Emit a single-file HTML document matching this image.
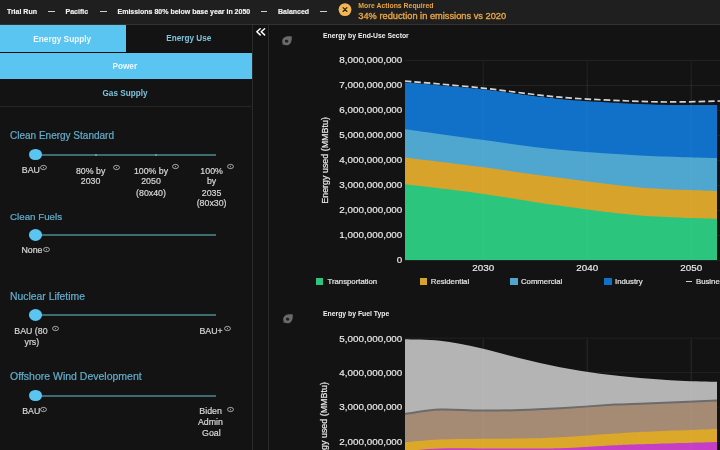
<!DOCTYPE html>
<html><head><meta charset="utf-8"><style>
html,body{margin:0;padding:0;}
body{width:720px;height:450px;background:#131313;position:relative;overflow:hidden;font-family:"Liberation Sans",sans-serif;}
.t{position:absolute;white-space:nowrap;-webkit-font-smoothing:antialiased;}
</style></head><body>
<svg style="position:absolute;left:0;top:0" width="720" height="450" viewBox="0 0 720 450">
<line x1="405" y1="60.5" x2="720" y2="60.5" stroke="#222222" stroke-width="1"/>
<line x1="405" y1="85.5" x2="720" y2="85.5" stroke="#222222" stroke-width="1"/>
<line x1="405" y1="110.5" x2="720" y2="110.5" stroke="#222222" stroke-width="1"/>
<line x1="405" y1="135.5" x2="720" y2="135.5" stroke="#222222" stroke-width="1"/>
<line x1="405" y1="160.5" x2="720" y2="160.5" stroke="#222222" stroke-width="1"/>
<line x1="405" y1="185.5" x2="720" y2="185.5" stroke="#222222" stroke-width="1"/>
<line x1="405" y1="210.5" x2="720" y2="210.5" stroke="#222222" stroke-width="1"/>
<line x1="405" y1="235.5" x2="720" y2="235.5" stroke="#222222" stroke-width="1"/>
<line x1="405" y1="260.5" x2="720" y2="260.5" stroke="#222222" stroke-width="1"/>
<line x1="483.2" y1="60" x2="483.2" y2="260" stroke="#222222" stroke-width="1"/>
<line x1="587.2" y1="60" x2="587.2" y2="260" stroke="#222222" stroke-width="1"/>
<line x1="691.2" y1="60" x2="691.2" y2="260" stroke="#222222" stroke-width="1"/>
<path d="M405,80.8 C417.50,82.13 454.17,85.78 480,88.8 C505.83,91.82 533.33,96.37 560,98.9 C586.67,101.43 620.00,102.98 640,104 C660.00,105.02 667.17,104.83 680,105 C692.83,105.17 710.83,105.00 717,105 L717,260 C665.00,260.00 457.00,260.00 405,260 Z" fill="#1170c8"/>
<path d="M405,129.3 C417.50,131.02 454.17,136.18 480,139.6 C505.83,143.02 533.33,147.17 560,149.8 C586.67,152.43 613.83,154.03 640,155.4 C666.17,156.77 704.17,157.57 717,158 L717,260 C665.00,260.00 457.00,260.00 405,260 Z" fill="#4fa6cf"/>
<path d="M405,157.5 C417.50,159.05 454.17,163.42 480,166.8 C505.83,170.18 533.33,174.35 560,177.8 C586.67,181.25 613.83,185.30 640,187.5 C666.17,189.70 704.17,190.42 717,191 L717,260 C665.00,260.00 457.00,260.00 405,260 Z" fill="#d8a32b"/>
<path d="M405,184.3 C417.50,185.82 454.17,189.82 480,193.4 C505.83,196.98 533.33,202.10 560,205.8 C586.67,209.50 613.83,213.42 640,215.6 C666.17,217.78 704.17,218.35 717,218.9 L717,260 C665.00,260.00 457.00,260.00 405,260 Z" fill="#2cc57e"/>
<line x1="483.2" y1="80" x2="483.2" y2="260" stroke="#ffffff" stroke-opacity="0.05" stroke-width="1"/>
<line x1="587.2" y1="80" x2="587.2" y2="260" stroke="#ffffff" stroke-opacity="0.05" stroke-width="1"/>
<line x1="691.2" y1="80" x2="691.2" y2="260" stroke="#ffffff" stroke-opacity="0.05" stroke-width="1"/>
<path d="M405,81 C417.50,82.13 454.17,85.10 480,87.8 C505.83,90.50 533.33,94.93 560,97.2 C586.67,99.47 620.00,100.62 640,101.4 C660.00,102.18 666.67,101.97 680,101.9 C693.33,101.83 713.33,101.15 720,101" fill="none" stroke="#131313" stroke-width="2.6"/>
<path d="M405,81 C417.50,82.13 454.17,85.10 480,87.8 C505.83,90.50 533.33,94.93 560,97.2 C586.67,99.47 620.00,100.62 640,101.4 C660.00,102.18 666.67,101.97 680,101.9 C693.33,101.83 713.33,101.15 720,101" fill="none" stroke="#d4d4d4" stroke-width="1.7" stroke-dasharray="6.5 3"/>
<line x1="405" y1="338.2" x2="720" y2="338.2" stroke="#222222" stroke-width="1"/>
<line x1="405" y1="372.7" x2="720" y2="372.7" stroke="#222222" stroke-width="1"/>
<line x1="405" y1="407.2" x2="720" y2="407.2" stroke="#222222" stroke-width="1"/>
<line x1="405" y1="441.7" x2="720" y2="441.7" stroke="#222222" stroke-width="1"/>
<line x1="483.2" y1="338" x2="483.2" y2="450" stroke="#222222" stroke-width="1"/>
<line x1="587.2" y1="338" x2="587.2" y2="450" stroke="#222222" stroke-width="1"/>
<line x1="691.2" y1="338" x2="691.2" y2="450" stroke="#222222" stroke-width="1"/>
<path d="M405,339.2 C410.83,339.47 427.50,339.33 440,340.8 C452.50,342.27 466.67,345.08 480,348 C493.33,350.92 506.67,355.10 520,358.3 C533.33,361.50 546.67,364.62 560,367.2 C573.33,369.78 586.67,372.00 600,373.8 C613.33,375.60 626.67,376.85 640,378 C653.33,379.15 667.17,380.07 680,380.7 C692.83,381.33 710.83,381.62 717,381.8 L717,460 C665.00,460.00 457.00,460.00 405,460 Z" fill="#b4b4b4"/>
<path d="M405,413.9 C410.83,413.18 427.50,410.15 440,409.6 C452.50,409.05 466.67,410.52 480,410.6 C493.33,410.68 506.67,410.48 520,410.1 C533.33,409.72 544.17,409.22 560,408.3 C575.83,407.38 601.67,405.35 615,404.6 C628.33,403.85 623.00,404.48 640,403.8 C657.00,403.12 704.17,401.05 717,400.5 L717,460 C665.00,460.00 457.00,460.00 405,460 Z" fill="#a58b74"/>
<path d="M405,442.3 C410.83,441.85 427.50,440.20 440,439.6 C452.50,439.00 466.67,438.87 480,438.7 C493.33,438.53 506.67,438.83 520,438.6 C533.33,438.37 544.17,438.15 560,437.3 C575.83,436.45 601.67,434.40 615,433.5 C628.33,432.60 623.00,432.67 640,431.9 C657.00,431.13 704.17,429.40 717,428.9 L717,460 C665.00,460.00 457.00,460.00 405,460 Z" fill="#dca82a"/>
<path d="M405,451 C410.83,450.58 427.50,448.93 440,448.5 C452.50,448.07 466.67,448.42 480,448.4 C493.33,448.38 506.67,448.42 520,448.4 C533.33,448.38 544.17,448.82 560,448.3 C575.83,447.78 601.67,445.97 615,445.3 C628.33,444.63 623.00,444.85 640,444.3 C657.00,443.75 704.17,442.38 717,442 L717,460 C665.00,460.00 457.00,460.00 405,460 Z" fill="#c43fc6"/>
<path d="M405,413.9 C410.83,413.18 427.50,410.15 440,409.6 C452.50,409.05 466.67,410.52 480,410.6 C493.33,410.68 506.67,410.48 520,410.1 C533.33,409.72 544.17,409.22 560,408.3 C575.83,407.38 601.67,405.35 615,404.6 C628.33,403.85 623.00,404.48 640,403.8 C657.00,403.12 704.17,401.05 717,400.5" fill="none" stroke="#6b6b6b" stroke-width="2"/>
<line x1="483.2" y1="340" x2="483.2" y2="450" stroke="#ffffff" stroke-opacity="0.05" stroke-width="1"/>
<line x1="587.2" y1="340" x2="587.2" y2="450" stroke="#ffffff" stroke-opacity="0.05" stroke-width="1"/>
<line x1="691.2" y1="340" x2="691.2" y2="450" stroke="#ffffff" stroke-opacity="0.05" stroke-width="1"/>
</svg>
<div style="position:absolute;left:0;top:0;width:720px;height:450px;will-change:transform;">
<div style="position:absolute;left:0px;top:0px;width:720px;height:24px;background:#1f1f1f;"></div>
<div style="position:absolute;left:0px;top:24px;width:720px;height:1px;background:#333333;"></div>
<div class="t" style="left:7.00px;top:8.00px;font-size:7.0px;line-height:7.0px;font-weight:700;color:#f2f2f2;-webkit-text-stroke:0.15px #f2f2f2;">Trial Run</div>
<div style="position:absolute;left:48px;top:11px;width:6.5px;height:1px;background:#d0d0d0;"></div>
<div class="t" style="left:65.50px;top:8.00px;font-size:7.0px;line-height:7.0px;font-weight:700;color:#f2f2f2;-webkit-text-stroke:0.15px #f2f2f2;">Pacific</div>
<div style="position:absolute;left:100px;top:11px;width:6.5px;height:1px;background:#d0d0d0;"></div>
<div class="t" style="left:117.50px;top:8.00px;font-size:7.0px;line-height:7.0px;font-weight:700;color:#f2f2f2;-webkit-text-stroke:0.15px #f2f2f2;">Emissions 80% below base year in 2050</div>
<div style="position:absolute;left:260.5px;top:11px;width:6.5px;height:1px;background:#d0d0d0;"></div>
<div class="t" style="left:278.00px;top:8.00px;font-size:7.0px;line-height:7.0px;font-weight:700;color:#f2f2f2;-webkit-text-stroke:0.15px #f2f2f2;">Balanced</div>
<div style="position:absolute;left:320px;top:11px;width:6.5px;height:1px;background:#d0d0d0;"></div>
<svg style="position:absolute;left:338px;top:3px" width="14" height="14" viewBox="0 0 14 14"><circle cx="7" cy="6.6" r="6.4" fill="#f2b652"/><path d="M5.1 4.7 L8.9 8.5 M8.9 4.7 L5.1 8.5" stroke="#2a1d08" stroke-width="1.1" stroke-linecap="round"/></svg>
<div class="t" style="left:358.30px;top:3.00px;font-size:6.9px;line-height:6.9px;font-weight:700;color:#e8a644;">More Actions Required</div>
<div class="t" style="left:358.30px;top:12.00px;font-size:9.28px;line-height:9.28px;font-weight:400;color:#e8a644;-webkit-text-stroke:0.35px #e8a644;">34% reduction in emissions vs 2020</div>
<div style="position:absolute;left:0px;top:25px;width:126px;height:27px;background:#5bc5f1;"></div>
<div style="position:absolute;left:0px;top:52px;width:252px;height:1px;background:#0d0d0d;"></div>
<div style="position:absolute;left:0px;top:53px;width:252px;height:26px;background:#5bc5f1;"></div>
<div class="t" style="left:33.30px;top:36.00px;font-size:8.28px;line-height:8.28px;font-weight:700;color:#eef8fd;">Energy Supply</div>
<div class="t" style="left:166.20px;top:35.00px;font-size:8.21px;line-height:8.21px;font-weight:700;color:#7fc4dc;">Energy Use</div>
<div class="t" style="left:112.50px;top:63.00px;font-size:8.2px;line-height:8.2px;font-weight:700;color:#eef8fd;">Power</div>
<div class="t" style="left:102.50px;top:90.00px;font-size:8.18px;line-height:8.18px;font-weight:700;color:#7fc4dc;">Gas Supply</div>
<div style="position:absolute;left:0px;top:106px;width:251px;height:1px;background:#262626;"></div>
<div style="position:absolute;left:252px;top:25px;width:1px;height:425px;background:#2a2a2a;"></div>
<div style="position:absolute;left:268px;top:25px;width:1px;height:425px;background:#2a2a2a;"></div>
<svg style="position:absolute;left:254px;top:26px" width="14" height="12" viewBox="0 0 14 12"><path d="M6.2 2.7 L2.8 5.8 L6.2 8.9 M10.6 2.7 L7.2 5.8 L10.6 8.9" stroke="#ffffff" stroke-width="1.45" fill="none" stroke-linecap="round" stroke-linejoin="round"/></svg>
<div class="t" style="left:10.00px;top:131.00px;font-size:10.0px;line-height:10.0px;font-weight:400;color:#62aecd;-webkit-text-stroke:0.2px #62aecd;">Clean Energy Standard</div>
<div style="position:absolute;left:36px;top:153.6px;width:180px;height:2px;background:#3e6b72;"></div>
<div style="position:absolute;left:94.5px;top:153.6px;width:2px;height:2px;background:#6d9499;"></div>
<div style="position:absolute;left:154.5px;top:153.6px;width:2px;height:2px;background:#6d9499;"></div>
<div style="position:absolute;left:28.80px;top:148.60px;width:13.1px;height:11.6px;border-radius:50%;background:#5bc5f1"></div>
<div class="t" style="left:-169.20px;width:400px;text-align:center;top:166.00px;font-size:8.8px;line-height:8.8px;font-weight:400;color:#d8d8d8;-webkit-text-stroke:0.2px #d8d8d8;">BAU</div>
<svg style="position:absolute;left:39.90px;top:164.10px" width="7" height="7" viewBox="0 0 7 7"><ellipse cx="3.5" cy="3.5" rx="2.95" ry="2.1" stroke="#cfcfcf" stroke-width="0.8" fill="none"/><path d="M3.5 2.9 V4.2" stroke="#cfcfcf" stroke-width="0.7"/></svg>
<div class="t" style="left:-109.40px;width:400px;text-align:center;top:167.00px;font-size:8.8px;line-height:8.8px;font-weight:400;color:#d8d8d8;-webkit-text-stroke:0.2px #d8d8d8;">80% by</div>
<div class="t" style="left:-109.40px;width:400px;text-align:center;top:177.00px;font-size:8.8px;line-height:8.8px;font-weight:400;color:#d8d8d8;-webkit-text-stroke:0.2px #d8d8d8;">2030</div>
<svg style="position:absolute;left:112.80px;top:163.80px" width="7" height="7" viewBox="0 0 7 7"><ellipse cx="3.5" cy="3.5" rx="2.95" ry="2.1" stroke="#cfcfcf" stroke-width="0.8" fill="none"/><path d="M3.5 2.9 V4.2" stroke="#cfcfcf" stroke-width="0.7"/></svg>
<div class="t" style="left:-49.00px;width:400px;text-align:center;top:167.00px;font-size:8.8px;line-height:8.8px;font-weight:400;color:#d8d8d8;-webkit-text-stroke:0.2px #d8d8d8;">100% by</div>
<div class="t" style="left:-49.00px;width:400px;text-align:center;top:177.00px;font-size:8.8px;line-height:8.8px;font-weight:400;color:#d8d8d8;-webkit-text-stroke:0.2px #d8d8d8;">2050</div>
<div class="t" style="left:-49.00px;width:400px;text-align:center;top:189.00px;font-size:8.8px;line-height:8.8px;font-weight:400;color:#d8d8d8;-webkit-text-stroke:0.2px #d8d8d8;">(80x40)</div>
<svg style="position:absolute;left:172.10px;top:163.30px" width="7" height="7" viewBox="0 0 7 7"><ellipse cx="3.5" cy="3.5" rx="2.95" ry="2.1" stroke="#cfcfcf" stroke-width="0.8" fill="none"/><path d="M3.5 2.9 V4.2" stroke="#cfcfcf" stroke-width="0.7"/></svg>
<div class="t" style="left:11.60px;width:400px;text-align:center;top:167.00px;font-size:8.8px;line-height:8.8px;font-weight:400;color:#d8d8d8;-webkit-text-stroke:0.2px #d8d8d8;">100%</div>
<div class="t" style="left:11.60px;width:400px;text-align:center;top:177.00px;font-size:8.8px;line-height:8.8px;font-weight:400;color:#d8d8d8;-webkit-text-stroke:0.2px #d8d8d8;">by</div>
<div class="t" style="left:11.60px;width:400px;text-align:center;top:189.00px;font-size:8.8px;line-height:8.8px;font-weight:400;color:#d8d8d8;-webkit-text-stroke:0.2px #d8d8d8;">2035</div>
<div class="t" style="left:11.60px;width:400px;text-align:center;top:199.00px;font-size:8.8px;line-height:8.8px;font-weight:400;color:#d8d8d8;-webkit-text-stroke:0.2px #d8d8d8;">(80x30)</div>
<svg style="position:absolute;left:226.50px;top:163.30px" width="7" height="7" viewBox="0 0 7 7"><ellipse cx="3.5" cy="3.5" rx="2.95" ry="2.1" stroke="#cfcfcf" stroke-width="0.8" fill="none"/><path d="M3.5 2.9 V4.2" stroke="#cfcfcf" stroke-width="0.7"/></svg>
<div class="t" style="left:10.00px;top:212.00px;font-size:9.75px;line-height:9.75px;font-weight:400;color:#62aecd;-webkit-text-stroke:0.2px #62aecd;">Clean Fuels</div>
<div style="position:absolute;left:36px;top:234.0px;width:180px;height:2px;background:#3e6b72;"></div>
<div style="position:absolute;left:28.80px;top:229.00px;width:13.1px;height:11.6px;border-radius:50%;background:#5bc5f1"></div>
<div class="t" style="left:-168.00px;width:400px;text-align:center;top:246.00px;font-size:8.8px;line-height:8.8px;font-weight:400;color:#d8d8d8;-webkit-text-stroke:0.2px #d8d8d8;">None</div>
<svg style="position:absolute;left:43.20px;top:245.50px" width="7" height="7" viewBox="0 0 7 7"><ellipse cx="3.5" cy="3.5" rx="2.95" ry="2.1" stroke="#cfcfcf" stroke-width="0.8" fill="none"/><path d="M3.5 2.9 V4.2" stroke="#cfcfcf" stroke-width="0.7"/></svg>
<div class="t" style="left:10.00px;top:292.00px;font-size:10.38px;line-height:10.38px;font-weight:400;color:#62aecd;-webkit-text-stroke:0.2px #62aecd;">Nuclear Lifetime</div>
<div style="position:absolute;left:36px;top:314.4px;width:180px;height:2px;background:#3e6b72;"></div>
<div style="position:absolute;left:28.80px;top:309.40px;width:13.1px;height:11.6px;border-radius:50%;background:#5bc5f1"></div>
<div class="t" style="left:-169.10px;width:400px;text-align:center;top:327.00px;font-size:8.8px;line-height:8.8px;font-weight:400;color:#d8d8d8;-webkit-text-stroke:0.2px #d8d8d8;">BAU (80</div>
<div class="t" style="left:-168.20px;width:400px;text-align:center;top:338.00px;font-size:8.8px;line-height:8.8px;font-weight:400;color:#d8d8d8;-webkit-text-stroke:0.2px #d8d8d8;">yrs)</div>
<svg style="position:absolute;left:52.20px;top:325.20px" width="7" height="7" viewBox="0 0 7 7"><ellipse cx="3.5" cy="3.5" rx="2.95" ry="2.1" stroke="#cfcfcf" stroke-width="0.8" fill="none"/><path d="M3.5 2.9 V4.2" stroke="#cfcfcf" stroke-width="0.7"/></svg>
<div class="t" style="left:11.10px;width:400px;text-align:center;top:327.00px;font-size:8.8px;line-height:8.8px;font-weight:400;color:#d8d8d8;-webkit-text-stroke:0.2px #d8d8d8;">BAU+</div>
<svg style="position:absolute;left:224.00px;top:324.50px" width="7" height="7" viewBox="0 0 7 7"><ellipse cx="3.5" cy="3.5" rx="2.95" ry="2.1" stroke="#cfcfcf" stroke-width="0.8" fill="none"/><path d="M3.5 2.9 V4.2" stroke="#cfcfcf" stroke-width="0.7"/></svg>
<div class="t" style="left:10.00px;top:371.00px;font-size:10.5px;line-height:10.5px;font-weight:400;color:#62aecd;-webkit-text-stroke:0.2px #62aecd;">Offshore Wind Development</div>
<div style="position:absolute;left:36px;top:394.59999999999997px;width:180px;height:2px;background:#3e6b72;"></div>
<div style="position:absolute;left:28.80px;top:389.60px;width:13.1px;height:11.6px;border-radius:50%;background:#5bc5f1"></div>
<div class="t" style="left:-168.80px;width:400px;text-align:center;top:407.00px;font-size:8.8px;line-height:8.8px;font-weight:400;color:#d8d8d8;-webkit-text-stroke:0.2px #d8d8d8;">BAU</div>
<svg style="position:absolute;left:39.70px;top:405.60px" width="7" height="7" viewBox="0 0 7 7"><ellipse cx="3.5" cy="3.5" rx="2.95" ry="2.1" stroke="#cfcfcf" stroke-width="0.8" fill="none"/><path d="M3.5 2.9 V4.2" stroke="#cfcfcf" stroke-width="0.7"/></svg>
<div class="t" style="left:10.60px;width:400px;text-align:center;top:407.00px;font-size:8.8px;line-height:8.8px;font-weight:400;color:#d8d8d8;-webkit-text-stroke:0.2px #d8d8d8;">Biden</div>
<div class="t" style="left:10.40px;width:400px;text-align:center;top:418.00px;font-size:8.8px;line-height:8.8px;font-weight:400;color:#d8d8d8;-webkit-text-stroke:0.2px #d8d8d8;">Admin</div>
<div class="t" style="left:11.40px;width:400px;text-align:center;top:429.00px;font-size:8.8px;line-height:8.8px;font-weight:400;color:#d8d8d8;-webkit-text-stroke:0.2px #d8d8d8;">Goal</div>
<svg style="position:absolute;left:227.00px;top:405.90px" width="7" height="7" viewBox="0 0 7 7"><ellipse cx="3.5" cy="3.5" rx="2.95" ry="2.1" stroke="#cfcfcf" stroke-width="0.8" fill="none"/><path d="M3.5 2.9 V4.2" stroke="#cfcfcf" stroke-width="0.7"/></svg>
<svg style="position:absolute;left:281.3px;top:34.7px" width="12" height="12" viewBox="0 0 12 12"><path d="M10.8,1.4 C10.9,4 10.6,6.6 9.3,8.4 C7.8,10.4 4.6,10.8 2.6,9.6 L1.3,10.6 L1.9,8.9 C0.7,7.0 1.0,4.2 2.9,2.7 C4.9,1.1 8.2,1.2 10.8,1.4 Z" fill="#6a6a6a"/><path d="M3.9,5.3 L5.9,4.6 L7.6,6.1 L6.3,7.7 L4.3,7.2 Z" fill="#1e1e1e"/></svg>
<svg style="position:absolute;left:281.5px;top:313px" width="12" height="12" viewBox="0 0 12 12"><path d="M10.8,1.4 C10.9,4 10.6,6.6 9.3,8.4 C7.8,10.4 4.6,10.8 2.6,9.6 L1.3,10.6 L1.9,8.9 C0.7,7.0 1.0,4.2 2.9,2.7 C4.9,1.1 8.2,1.2 10.8,1.4 Z" fill="#6a6a6a"/><path d="M3.9,5.3 L5.9,4.6 L7.6,6.1 L6.3,7.7 L4.3,7.2 Z" fill="#1e1e1e"/></svg>
<div class="t" style="left:323.00px;top:33.00px;font-size:6.84px;line-height:6.84px;font-weight:700;color:#f0f0f0;">Energy by End-Use Sector</div>
<div class="t" style="left:323.00px;top:311.00px;font-size:6.84px;line-height:6.84px;font-weight:700;color:#f0f0f0;">Energy by Fuel Type</div>
<div class="t" style="right:317.70px;top:55.00px;font-size:9.85px;line-height:9.85px;font-weight:400;color:#e8e8e8;-webkit-text-stroke:0.2px #e8e8e8;">8,000,000,000</div>
<div class="t" style="right:317.70px;top:80.00px;font-size:9.85px;line-height:9.85px;font-weight:400;color:#e8e8e8;-webkit-text-stroke:0.2px #e8e8e8;">7,000,000,000</div>
<div class="t" style="right:317.70px;top:105.00px;font-size:9.85px;line-height:9.85px;font-weight:400;color:#e8e8e8;-webkit-text-stroke:0.2px #e8e8e8;">6,000,000,000</div>
<div class="t" style="right:317.70px;top:130.00px;font-size:9.85px;line-height:9.85px;font-weight:400;color:#e8e8e8;-webkit-text-stroke:0.2px #e8e8e8;">5,000,000,000</div>
<div class="t" style="right:317.70px;top:155.00px;font-size:9.85px;line-height:9.85px;font-weight:400;color:#e8e8e8;-webkit-text-stroke:0.2px #e8e8e8;">4,000,000,000</div>
<div class="t" style="right:317.70px;top:180.00px;font-size:9.85px;line-height:9.85px;font-weight:400;color:#e8e8e8;-webkit-text-stroke:0.2px #e8e8e8;">3,000,000,000</div>
<div class="t" style="right:317.70px;top:205.00px;font-size:9.85px;line-height:9.85px;font-weight:400;color:#e8e8e8;-webkit-text-stroke:0.2px #e8e8e8;">2,000,000,000</div>
<div class="t" style="right:317.70px;top:230.00px;font-size:9.85px;line-height:9.85px;font-weight:400;color:#e8e8e8;-webkit-text-stroke:0.2px #e8e8e8;">1,000,000,000</div>
<div class="t" style="right:317.70px;top:255.00px;font-size:9.85px;line-height:9.85px;font-weight:400;color:#e8e8e8;-webkit-text-stroke:0.2px #e8e8e8;">0</div>
<div class="t" style="left:283.20px;width:400px;text-align:center;top:263.00px;font-size:9.85px;line-height:9.85px;font-weight:400;color:#e8e8e8;-webkit-text-stroke:0.2px #e8e8e8;">2030</div>
<div class="t" style="left:387.20px;width:400px;text-align:center;top:263.00px;font-size:9.85px;line-height:9.85px;font-weight:400;color:#e8e8e8;-webkit-text-stroke:0.2px #e8e8e8;">2040</div>
<div class="t" style="left:491.20px;width:400px;text-align:center;top:263.00px;font-size:9.85px;line-height:9.85px;font-weight:400;color:#e8e8e8;-webkit-text-stroke:0.2px #e8e8e8;">2050</div>
<div class="t" style="right:317.70px;top:334.00px;font-size:9.85px;line-height:9.85px;font-weight:400;color:#e8e8e8;-webkit-text-stroke:0.2px #e8e8e8;">5,000,000,000</div>
<div class="t" style="right:317.70px;top:368.00px;font-size:9.85px;line-height:9.85px;font-weight:400;color:#e8e8e8;-webkit-text-stroke:0.2px #e8e8e8;">4,000,000,000</div>
<div class="t" style="right:317.70px;top:402.00px;font-size:9.85px;line-height:9.85px;font-weight:400;color:#e8e8e8;-webkit-text-stroke:0.2px #e8e8e8;">3,000,000,000</div>
<div class="t" style="right:317.70px;top:437.00px;font-size:9.85px;line-height:9.85px;font-weight:400;color:#e8e8e8;-webkit-text-stroke:0.2px #e8e8e8;">2,000,000,000</div>
<div class="t" style="left:224.80px;top:155.95px;width:200px;text-align:center;font-size:8.91px;line-height:8.91px;color:#e8e8e8;transform:rotate(-90deg);transform-origin:center center;-webkit-text-stroke:0.2px #e8e8e8;">Energy used (MMBtu)</div>
<div class="t" style="left:224.10px;top:420.75px;width:200px;text-align:center;font-size:8.91px;line-height:8.91px;color:#e8e8e8;transform:rotate(-90deg);transform-origin:center center;-webkit-text-stroke:0.2px #e8e8e8;">Energy used (MMBtu)</div>
<div style="position:absolute;left:316px;top:278px;width:7.4px;height:7px;background:#2cc57e;"></div>
<div class="t" style="left:327.50px;top:278.00px;font-size:7.75px;line-height:7.75px;font-weight:400;color:#e6e6e6;-webkit-text-stroke:0.2px #e6e6e6;">Transportation</div>
<div style="position:absolute;left:419.5px;top:278px;width:7.4px;height:7px;background:#d8a32b;"></div>
<div class="t" style="left:430.80px;top:278.00px;font-size:7.75px;line-height:7.75px;font-weight:400;color:#e6e6e6;-webkit-text-stroke:0.2px #e6e6e6;">Residential</div>
<div style="position:absolute;left:510.2px;top:278px;width:7.4px;height:7px;background:#4fa6cf;"></div>
<div class="t" style="left:521.00px;top:278.00px;font-size:7.75px;line-height:7.75px;font-weight:400;color:#e6e6e6;-webkit-text-stroke:0.2px #e6e6e6;">Commercial</div>
<div style="position:absolute;left:604.3px;top:278px;width:7.4px;height:7px;background:#1170c8;"></div>
<div class="t" style="left:615.00px;top:278.00px;font-size:7.75px;line-height:7.75px;font-weight:400;color:#e6e6e6;-webkit-text-stroke:0.2px #e6e6e6;">Industry</div>
<div style="position:absolute;left:685.8px;top:280.7px;width:6px;height:1.3px;background:#d0d0d0;"></div>
<div class="t" style="left:696.00px;top:278.00px;font-size:7.75px;line-height:7.75px;font-weight:400;color:#e6e6e6;-webkit-text-stroke:0.2px #e6e6e6;">Business as usual</div>
</div>
</body></html>
